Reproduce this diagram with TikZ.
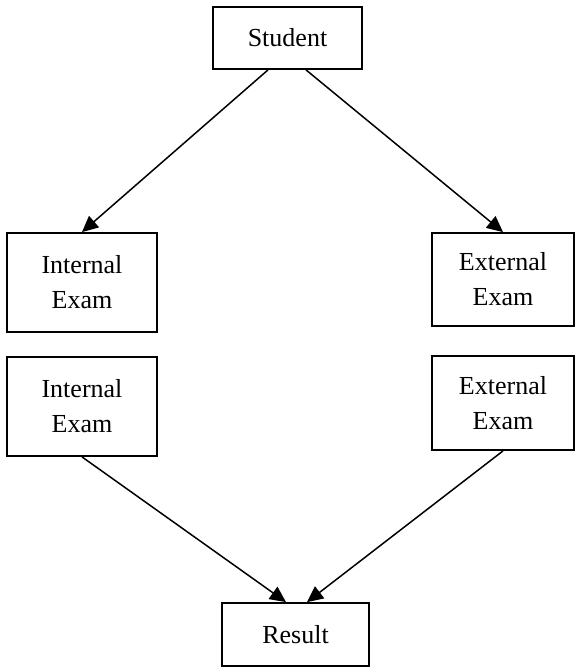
\documentclass[tikz,border=0pt]{standalone}
\usepackage{fontspec}
\setmainfont{Liberation Serif}
\usetikzlibrary{arrows.meta}
\begin{document}
\begin{tikzpicture}[x=0.5pt,y=-0.5pt,
  box/.style={draw, line width=0.9pt, rectangle, inner sep=0pt, align=center,
    font=\fontsize{13}{17.5}\selectfont},
  flow/.style={line width=0.75pt, -{Triangle[length=8pt,width=7.5pt]}}]
  \useasboundingbox (0,0) rectangle (576,668);

  \node[box, minimum width=74.5pt, minimum height=31pt] (student) at (287.5,38) {Student};
  \node[box, minimum width=75pt, minimum height=49.5pt] (intA) at (82,282.5) {Internal\\Exam};
  \node[box, minimum width=71pt, minimum height=46.5pt] (extA) at (503,279.5) {External\\Exam};
  \node[box, minimum width=75pt, minimum height=49.5pt] (intB) at (82,406.5) {Internal\\Exam};
  \node[box, minimum width=71pt, minimum height=47pt] (extB) at (503,403) {External\\Exam};
  \node[box, minimum width=73.5pt, minimum height=31.5pt] (result) at (295.5,634.5) {Result};

  \draw[flow] ([xshift=-9.75pt]student.south) -- (intA.north);
  \draw[flow] ([xshift=9.25pt]student.south) -- (extA.north);
  \draw[flow] (intB.south) -- ([xshift=-4.75pt]result.north);
  \draw[flow] (extB.south) -- ([xshift=5.75pt]result.north);
\end{tikzpicture}
\end{document}
